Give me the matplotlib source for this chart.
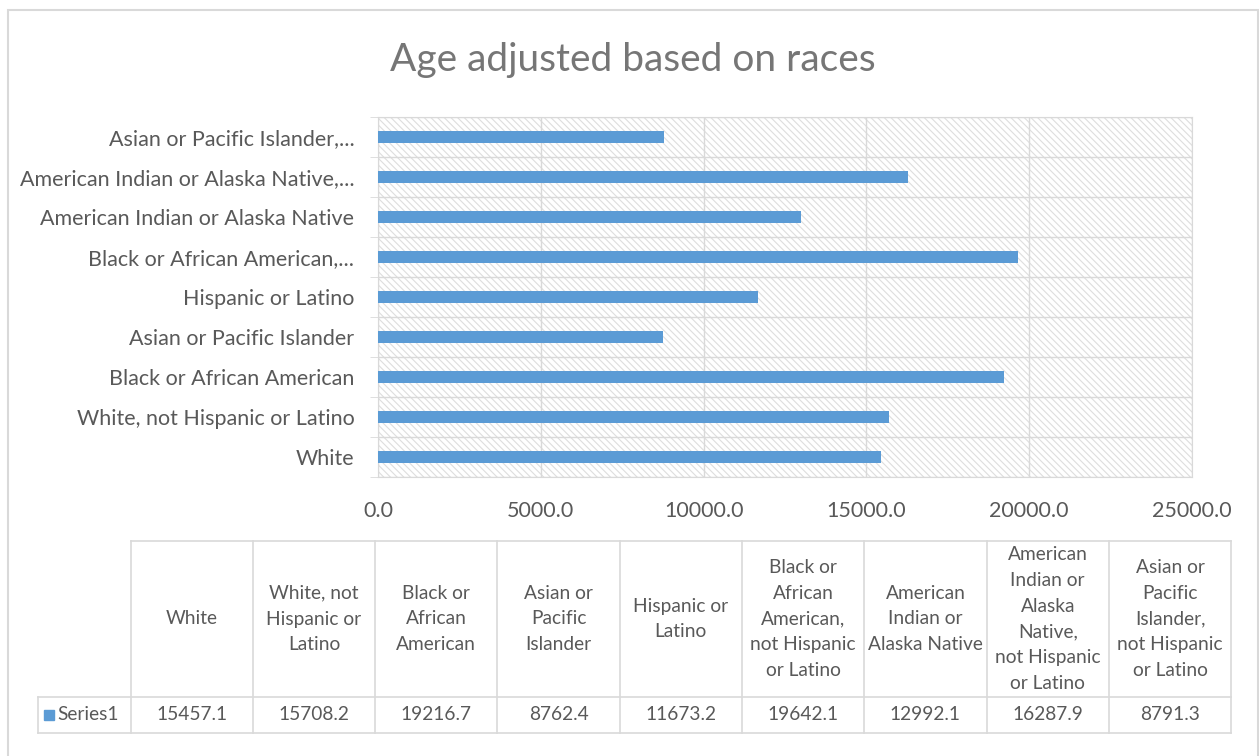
import numpy as np
import matplotlib
matplotlib.use("Agg")
import matplotlib.pyplot as plt
from matplotlib.patches import Rectangle
from matplotlib.lines import Line2D

plt.rcParams['font.family'] = ['Lato', 'DejaVu Sans']
plt.rcParams['hatch.linewidth'] = 0.8

# datos
categorias = ["White", "White, not Hispanic or Latino", "Black or African American",
              "Asian or Pacific Islander", "Hispanic or Latino",
              "Black or African American, not Hispanic or Latino",
              "American Indian or Alaska Native",
              "American Indian or Alaska Native, not Hispanic or Latino",
              "Asian or Pacific Islander, not Hispanic or Latino"]
etiquetas_eje = ["White", "White, not Hispanic or Latino", "Black or African American",
                 "Asian or Pacific Islander", "Hispanic or Latino",
                 "Black or African American,...", "American Indian or Alaska Native",
                 "American Indian or Alaska Native,...", "Asian or Pacific Islander,..."]
encabezados = ["White", "White, not\nHispanic or\nLatino", "Black or\nAfrican\nAmerican",
               "Asian or\nPacific\nIslander", "Hispanic or\nLatino",
               "Black or\nAfrican\nAmerican,\nnot Hispanic\nor Latino",
               "American\nIndian or\nAlaska Native",
               "American\nIndian or\nAlaska\nNative,\nnot Hispanic\nor Latino",
               "Asian or\nPacific\nIslander,\nnot Hispanic\nor Latino"]
valores = [15457.1, 15708.2, 19216.7, 8762.4, 11673.2, 19642.1, 12992.1, 16287.9, 8791.3]
serie = "Series1"

W, H = 1259, 756
gris = '#595959'
linea = '#d9d9d9'
azul = '#5b9bd5'

def fx(x):
    return x / W

def fy(y):
    return 1 - y / H

fig = plt.figure(figsize=(W / 100, H / 100), dpi=100)

# borde exterior
fig.add_artist(Rectangle((fx(8), fy(760)), fx(1258) - fx(8), fy(10) - fy(760),
                         transform=fig.transFigure, fill=False, edgecolor=linea, lw=1.5))

fig.text(fx(633), fy(60), "Age adjusted based on races", ha='center', va='center',
         fontsize=28, color='#767676')

ax = fig.add_axes([fx(378), fy(477), fx(1192) - fx(378), fy(117) - fy(477)])
ax.add_patch(Rectangle((0, 0), 1, 1, transform=ax.transAxes, facecolor='white',
                       edgecolor='#dedede', hatch='\\\\\\\\\\', lw=0, zorder=0))
y = np.arange(len(valores))
ax.barh(y, valores, height=0.3, color=azul, zorder=3)
ax.set_xlim(0, 25000)
ax.set_ylim(-0.5, len(valores) - 0.5)
ax.set_xticks(np.arange(0, 25001, 5000))
ax.set_xticklabels(["%.1f" % v for v in np.arange(0, 25001, 5000)])
ax.set_yticks(y)
ax.set_yticklabels(etiquetas_eje)
ax.set_yticks(np.arange(-0.5, len(valores), 1), minor=True)
ax.tick_params(axis='y', which='major', length=0, pad=17, labelsize=15.5, labelcolor=gris)
ax.tick_params(axis='y', which='minor', length=6, color=linea)
ax.tick_params(axis='x', length=0, pad=17, labelsize=15.5, labelcolor=gris)
ax.grid(True, axis='x', color=linea, lw=1, zorder=1)
ax.grid(True, axis='y', which='minor', color=linea, lw=1, zorder=1)
for s in ax.spines.values():
    s.set_color(linea)

# tabla de datos
x0, ancho = 130.5, 122.3
bordes = [x0 + i * ancho for i in range(len(valores) + 1)]
top, mid, bot = 541, 697, 733
fig.add_artist(Line2D([fx(bordes[0]), fx(bordes[-1])], [fy(top), fy(top)], color=linea, lw=1.2))
for yy in (mid, bot):
    fig.add_artist(Line2D([fx(38), fx(bordes[-1])], [fy(yy), fy(yy)], color=linea, lw=1.2))
for b in bordes:
    fig.add_artist(Line2D([fx(b), fx(b)], [fy(top), fy(bot)], color=linea, lw=1.2))
fig.add_artist(Line2D([fx(38), fx(38)], [fy(mid), fy(bot)], color=linea, lw=1.2))

for i, (enc, val) in enumerate(zip(encabezados, valores)):
    cx = (bordes[i] + bordes[i + 1]) / 2
    fig.text(fx(cx), fy((top + mid) / 2), enc, ha='center', va='center', fontsize=13.8,
             color=gris, linespacing=1.62)
    fig.text(fx(cx), fy((mid + bot) / 2), "%.1f" % val, ha='center', va='center',
             fontsize=13.8, color=gris)

fig.add_artist(Rectangle((fx(44), fy(720)), fx(54) - fx(44), fy(710) - fy(720),
                         transform=fig.transFigure, color=azul))
fig.text(fx(57), fy((mid + bot) / 2), serie, ha='left', va='center', fontsize=13.8, color=gris)

fig.savefig("out.png", dpi=100)
